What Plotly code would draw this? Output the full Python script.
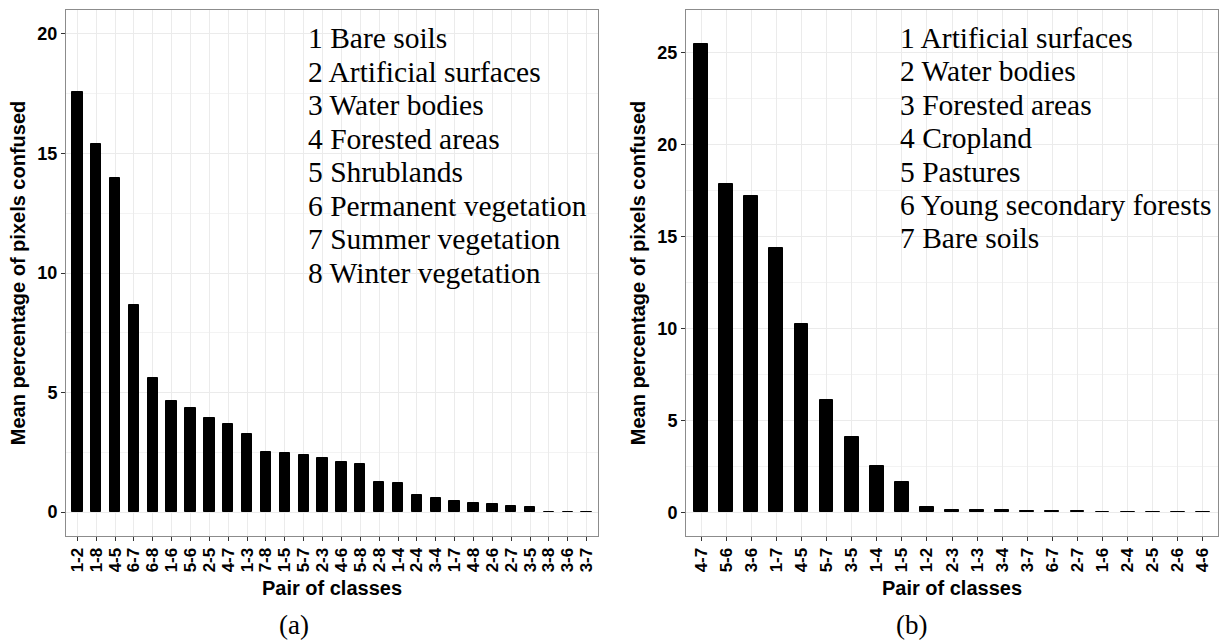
import plotly.graph_objects as go

# Panel (a): eight land-cover classes
pairs_a = ["1-2", "1-8", "4-5", "6-7", "6-8", "1-6", "5-6", "2-5", "4-7", "1-3",
           "7-8", "1-5", "5-7", "2-3", "4-6", "5-8", "2-8", "1-4", "2-4", "3-4",
           "1-7", "4-8", "2-6", "2-7", "3-5", "3-8", "3-6", "3-7"]
values_a = [17.56, 15.41, 13.97, 8.66, 5.62, 4.66, 4.34, 3.95, 3.68, 3.26,
            2.50, 2.46, 2.40, 2.27, 2.08, 2.03, 1.24, 1.20, 0.71, 0.57,
            0.47, 0.39, 0.34, 0.25, 0.22, 0.02, 0.02, 0.02]
classes_a = ["1 Bare soils", "2 Artificial surfaces", "3 Water bodies",
             "4 Forested areas", "5 Shrublands", "6 Permanent vegetation",
             "7 Summer vegetation", "8 Winter vegetation"]

# Panel (b): seven land-cover classes
pairs_b = ["4-7", "5-6", "3-6", "1-7", "4-5", "5-7", "3-5", "1-4", "1-5", "1-2",
           "2-3", "1-3", "3-4", "3-7", "6-7", "2-7", "1-6", "2-4", "2-5", "2-6", "4-6"]
values_b = [25.43, 17.83, 17.21, 14.35, 10.23, 6.12, 4.08, 2.50, 1.63, 0.30,
            0.13, 0.13, 0.12, 0.08, 0.06, 0.05, 0.03, 0.03, 0.02, 0.02, 0.02]
classes_b = ["1 Artificial surfaces", "2 Water bodies", "3 Forested areas",
             "4 Cropland", "5 Pastures", "6 Young secondary forests", "7 Bare soils"]

W, H = 1226, 644
SANS = "Liberation Sans, Arial, sans-serif"
SERIF = "Liberation Serif, Times New Roman, serif"

fig = go.Figure()
fig.add_trace(go.Bar(x=pairs_a, y=values_a, width=0.55, xaxis="x", yaxis="y",
                     marker=dict(color="black", line=dict(color="black", width=1)),
                     showlegend=False))
fig.add_trace(go.Bar(x=pairs_b, y=values_b, width=0.55, xaxis="x2", yaxis="y2",
                     marker=dict(color="black", line=dict(color="black", width=1)),
                     showlegend=False))

ytick_font = dict(family=SANS, size=18, color="black", weight="bold")
xtick_font = dict(family=SANS, size=17, color="black", weight="bold")
title_font = dict(family=SANS, size=20, color="black", weight="bold")
frame = dict(showline=True, mirror=True, linecolor="#8c8c8c", linewidth=1,
             gridcolor="#ebebeb", gridwidth=1, zeroline=False,
             ticks="outside", ticklen=4, tickcolor="#333333")

yd = [1 - 536 / H, 1 - 10 / H]

fig.update_layout(
    width=W, height=H, margin=dict(l=0, r=0, t=0, b=0),
    plot_bgcolor="white", paper_bgcolor="white", bargap=0,
    xaxis=dict(domain=[66 / W, 598 / W], anchor="y", type="category",
               range=[-0.6, len(pairs_a) - 0.4], tickangle=-90, dtick=1,
               tickfont=xtick_font,
               title=dict(text="Pair of classes", font=title_font, standoff=9), **frame),
    yaxis=dict(domain=yd, anchor="x", range=[-1.0, 21.0], dtick=5, tick0=0,
               tickfont=ytick_font,
               minor=dict(dtick=2.5, showgrid=True, gridcolor="#f3f3f3"),
               title=dict(text="Mean percentage of pixels confused", font=title_font, standoff=6),
               **frame),
    xaxis2=dict(domain=[686 / W, 1218 / W], anchor="y2", type="category",
                range=[-0.6, len(pairs_b) - 0.4], tickangle=-90, dtick=1,
                tickfont=xtick_font,
                title=dict(text="Pair of classes", font=title_font, standoff=9), **frame),
    yaxis2=dict(domain=yd, anchor="x2", range=[-1.29, 27.3], dtick=5, tick0=0,
                tickfont=ytick_font,
                minor=dict(dtick=2.5, showgrid=True, gridcolor="#f3f3f3"),
                title=dict(text="Mean percentage of pixels confused", font=title_font, standoff=6),
                **frame),
)

# Class key written inside each panel
key_font = dict(family=SERIF, size=29.5, color="black")
anns = []
for i, name in enumerate(classes_a):
    anns.append(dict(text=name, xref="paper", yref="paper", x=306 / W,
                     y=1 - (38 + 33.5 * i) / H, xanchor="left", yanchor="middle",
                     showarrow=False, font=key_font))
for i, name in enumerate(classes_b):
    anns.append(dict(text=name, xref="paper", yref="paper", x=898 / W,
                     y=1 - (38 + 33.4 * i) / H, xanchor="left", yanchor="middle",
                     showarrow=False, font=key_font))
# Panel letters
for lab, xc in (("(a)", 294), ("(b)", 911)):
    anns.append(dict(text=lab, xref="paper", yref="paper", x=xc / W, y=1 - 625 / H,
                     xanchor="center", yanchor="middle", showarrow=False,
                     font=dict(family=SERIF, size=27, color="black")))
fig.update_layout(annotations=anns)

fig.write_html("out.html")
